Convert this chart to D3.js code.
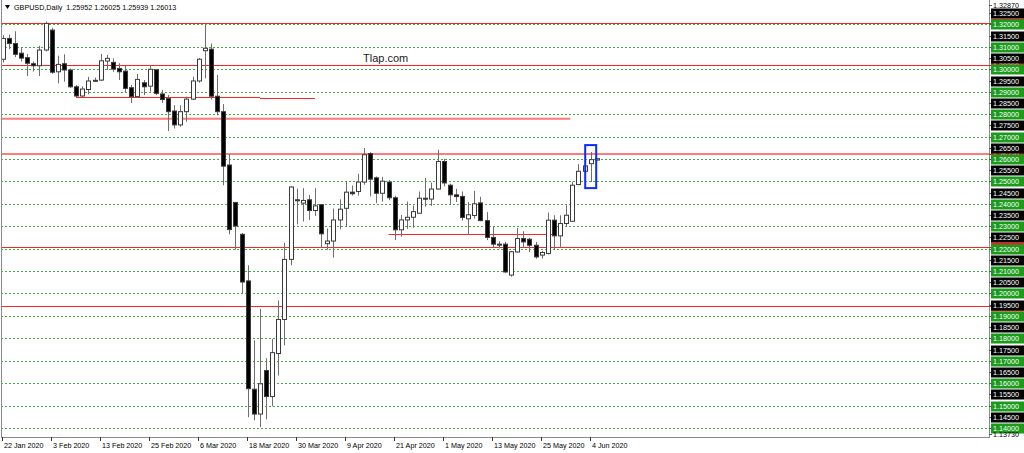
<!DOCTYPE html>
<html>

<head>
    <meta charset="utf-8">
    <title>GBPUSD Daily</title>
    <script src="https://cdn.jsdelivr.net/npm/d3@7"></script>
    <style>
        body {
            margin: 0;
            background: #fff;
        }

        text {
            font-family: "Liberation Sans", Arial, sans-serif;
        }

        .grid {
            stroke: #3cae3c;
            stroke-dasharray: 2, 2;
            stroke-width: 1px;
        }

        .wick {
            stroke: #6e6e6e;
            stroke-width: 1px;
        }

        .body {
            stroke: #3a3a3a;
            stroke-width: 1px;
        }

        .frame {
            stroke: #8a8a8a;
            stroke-width: 1px;
        }
    </style>
</head>

<body>
    <script>
        // daily bars
        let dates = [
            "2020-01-22", "2020-01-23", "2020-01-24", "2020-01-27", "2020-01-28", "2020-01-29", "2020-01-30", "2020-01-31",
            "2020-02-03", "2020-02-04", "2020-02-05", "2020-02-06", "2020-02-07", "2020-02-10", "2020-02-11", "2020-02-12",
            "2020-02-13", "2020-02-14", "2020-02-17", "2020-02-18", "2020-02-19", "2020-02-20", "2020-02-21", "2020-02-24",
            "2020-02-25", "2020-02-26", "2020-02-27", "2020-02-28", "2020-03-02", "2020-03-03", "2020-03-04", "2020-03-05",
            "2020-03-06", "2020-03-09", "2020-03-10", "2020-03-11", "2020-03-12", "2020-03-13", "2020-03-16", "2020-03-17",
            "2020-03-18", "2020-03-19", "2020-03-20", "2020-03-23", "2020-03-24", "2020-03-25", "2020-03-26", "2020-03-27",
            "2020-03-30", "2020-03-31", "2020-04-01", "2020-04-02", "2020-04-03", "2020-04-06", "2020-04-07", "2020-04-08",
            "2020-04-09", "2020-04-10", "2020-04-13", "2020-04-14", "2020-04-15", "2020-04-16", "2020-04-17", "2020-04-20",
            "2020-04-21", "2020-04-22", "2020-04-23", "2020-04-24", "2020-04-27", "2020-04-28", "2020-04-29", "2020-04-30",
            "2020-05-01", "2020-05-04", "2020-05-05", "2020-05-06", "2020-05-07", "2020-05-08", "2020-05-11", "2020-05-12",
            "2020-05-13", "2020-05-14", "2020-05-15", "2020-05-18", "2020-05-19", "2020-05-20", "2020-05-21", "2020-05-22",
            "2020-05-25", "2020-05-26", "2020-05-27", "2020-05-28", "2020-05-29", "2020-06-01", "2020-06-02", "2020-06-03",
            "2020-06-04", "2020-06-05"
        ];

        let open = [
            1.3045, 1.3138, 1.3115, 1.3072, 1.3052, 1.3025, 1.3016, 1.3086,
            1.3175, 1.2989, 1.3025, 1.2997, 1.2922, 1.2881, 1.2910, 1.2948,
            1.2952, 1.3037, 1.3031, 1.3004, 1.2992, 1.2918, 1.2878, 1.2940,
            1.2925, 1.2998, 1.2890, 1.2870, 1.2814, 1.2752, 1.2811, 1.2867,
            1.2948, 1.3083, 1.3090, 1.2880, 1.2811, 1.2573, 1.2406, 1.2264,
            1.2056, 1.1573, 1.1462, 1.1656, 1.1540, 1.1732, 1.1884, 1.2152,
            1.2418, 1.2403, 1.2418, 1.2370, 1.2396, 1.2222, 1.2234, 1.2328,
            1.2380, 1.2452, 1.2455, 1.2497, 1.2624, 1.2516, 1.2447, 1.2497,
            1.2427, 1.2284, 1.2328, 1.2340, 1.2358, 1.2425, 1.2421, 1.2466,
            1.2589, 1.2483, 1.2440, 1.2433, 1.2333, 1.2348, 1.2404, 1.2325,
            1.2250, 1.2220, 1.2220, 1.2082, 1.2185, 1.2245, 1.2242, 1.2215,
            1.2171, 1.2178, 1.2327, 1.2257, 1.2312, 1.2322, 1.2486, 1.2545,
            1.2579, 1.25952
        ];

        let high = [
            1.3152, 1.3155, 1.3170, 1.3100, 1.3068, 1.3035, 1.3105, 1.3213,
            1.3185, 1.3061, 1.3067, 1.3004, 1.2930, 1.2924, 1.2967, 1.2963,
            1.3068, 1.3064, 1.3049, 1.3027, 1.3016, 1.2930, 1.2980, 1.2952,
            1.3016, 1.3000, 1.2907, 1.2885, 1.2840, 1.2840, 1.2878, 1.2967,
            1.3050, 1.3200, 1.3115, 1.2975, 1.2845, 1.2622, 1.2409, 1.2270,
            1.2126, 1.1791, 1.1931, 1.1711, 1.1797, 1.1969, 1.2226, 1.2479,
            1.2468, 1.2470, 1.2440, 1.2470, 1.2396, 1.2290, 1.2379, 1.2420,
            1.2500, 1.2482, 1.2534, 1.2649, 1.2630, 1.2522, 1.2520, 1.2506,
            1.2436, 1.2350, 1.2410, 1.2392, 1.2455, 1.2515, 1.2495, 1.2641,
            1.2600, 1.2490, 1.2467, 1.2455, 1.2408, 1.2458, 1.2431, 1.2363,
            1.2301, 1.2233, 1.2230, 1.2190, 1.2292, 1.2278, 1.2248, 1.2230,
            1.2190, 1.2361, 1.2349, 1.2349, 1.2394, 1.2498, 1.2577, 1.2614,
            1.2631, 1.26025
        ];

        let low = [
            1.3030, 1.3090, 1.3055, 1.3035, 1.2970, 1.2990, 1.2970, 1.3080,
            1.2980, 1.2937, 1.2945, 1.2918, 1.2873, 1.2873, 1.2888, 1.2945,
            1.2948, 1.2997, 1.2989, 1.2952, 1.2897, 1.2850, 1.2873, 1.2885,
            1.2900, 1.2885, 1.2850, 1.2725, 1.2736, 1.2744, 1.2766, 1.2863,
            1.2940, 1.2960, 1.2865, 1.2795, 1.2483, 1.2264, 1.2196, 1.1999,
            1.1448, 1.1434, 1.1404, 1.1438, 1.1497, 1.1634, 1.1769, 1.2126,
            1.2308, 1.2321, 1.2328, 1.2346, 1.2203, 1.2195, 1.2160, 1.2286,
            1.2296, 1.2437, 1.2437, 1.2485, 1.2433, 1.2403, 1.2410, 1.2416,
            1.2238, 1.2253, 1.2288, 1.2293, 1.2356, 1.2388, 1.2391, 1.2463,
            1.2478, 1.2398, 1.2408, 1.2325, 1.2262, 1.2334, 1.2322, 1.2238,
            1.2203, 1.2200, 1.2090, 1.2075, 1.2183, 1.2208, 1.2185, 1.2155,
            1.2156, 1.2174, 1.2193, 1.2208, 1.2297, 1.2319, 1.2483, 1.2540,
            1.2497, 1.25939
        ];

        let close = [
            1.3138, 1.3115, 1.3067, 1.3050, 1.3027, 1.3016, 1.3086, 1.3205,
            1.2987, 1.3022, 1.2997, 1.2922, 1.2881, 1.2912, 1.2948, 1.2951,
            1.3038, 1.3049, 1.3001, 1.2989, 1.2915, 1.2878, 1.2955, 1.2922,
            1.3000, 1.2893, 1.2865, 1.2811, 1.2752, 1.2811, 1.2867, 1.2948,
            1.3045, 1.3094, 1.2880, 1.2811, 1.2568, 1.2285, 1.2301, 1.2051,
            1.1575, 1.1462, 1.1597, 1.1540, 1.1736, 1.1884, 1.2152, 1.2475,
            1.2414, 1.2415, 1.2370, 1.2391, 1.2266, 1.2234, 1.2328, 1.2376,
            1.2452, 1.2445, 1.2497, 1.2619, 1.2510, 1.2447, 1.2501, 1.2427,
            1.2284, 1.2328, 1.2340, 1.2365, 1.2425, 1.2421, 1.2466, 1.2589,
            1.2493, 1.2440, 1.2432, 1.2339, 1.2351, 1.2400, 1.2325, 1.2250,
            1.2220, 1.2218, 1.2096, 1.2186, 1.2245, 1.2230, 1.2215, 1.2163,
            1.2183, 1.2327, 1.2257, 1.2312, 1.2349, 1.2483, 1.2545, 1.2569,
            1.2597, 1.26013
        ];

        let tickDates = ["2020-01-22", "2020-02-03", "2020-02-13", "2020-02-25", "2020-03-06", "2020-03-18", "2020-03-30",
            "2020-04-09", "2020-04-21", "2020-05-01", "2020-05-13", "2020-05-25", "2020-06-04"];

        // price axis
        let priceMin = 1.13730;
        let priceMax = 1.32870;
        let gridLevels = d3.range(114, 133).map(d => d / 100);         // green dashed, every 0.01
        let halfLevels = d3.range(114, 133).map(d => d / 100 + 0.005)  // black labels at the odd 0.005 steps
            .filter(d => d < priceMax);

        // hand drawn levels
        let redLevels = [1.3208, 1.3020, 1.2206, 1.1944];
        let wideLevels = [1.2622];
        let redSegments = [
            { price: 1.2877, from: "2020-02-07", to: "2020-03-20" },
            { price: 1.2871, from: "2020-03-20", to: "2020-04-02" },
            { price: 1.2267, from: "2020-04-20", to: "2020-05-27" }
        ];
        let wideSegments = [{ price: 1.2779, from: null, to: "2020-05-29" }];
        let boxLevels = { date: "2020-06-04", top: 1.2662, bottom: 1.2470 };

        let title = "GBPUSD,Daily  1.25952 1.26025 1.25939 1.26013";
        let watermark = "Tlap.com";

        let width = 1024;
        let height = 453;
        let plotLeft = 1;
        let plotRight = 989;
        let plotTop = 5;
        let plotBottom = 434;
        let frameBottom = 437;

        let parse = d3.timeParse("%Y-%m-%d");
        let fmt = d3.timeFormat("%-d %b %Y");

        let bars = dates.map((d, i) => ({
            date: d, o: open[i], h: high[i], l: low[i], c: close[i]
        }));

        let svg = d3.select('body').append('svg')
            .attr('width', width)
            .attr('height', height);

        let x = d3.scaleBand()
            .domain(dates)
            .range([-0.36, -0.36 + 6.125 * dates.length])
            .padding(0);
        let cx = d => x(d) + x.bandwidth() / 2;

        let y = d3.scaleLinear()
            .domain([priceMin, priceMax])
            .range([plotBottom, plotTop]);

        svg.append("clipPath").attr("id", "plot")
            .append("rect")
            .attr("x", plotLeft).attr("y", 0)
            .attr("width", plotRight - plotLeft).attr("height", frameBottom);

        let plot = svg.append("g").attr("clip-path", "url(#plot)");

        // grid
        plot.selectAll("line.grid")
            .data(gridLevels)
            .join("line")
            .attr("class", "grid")
            .attr("x1", plotLeft).attr("x2", plotRight)
            .attr("y1", d => Math.round(y(d)) + 0.5)
            .attr("y2", d => Math.round(y(d)) + 0.5);

        // red levels
        plot.selectAll("line.wide")
            .data(wideLevels)
            .join("line")
            .attr("class", "wide")
            .attr("x1", plotLeft).attr("x2", plotRight)
            .attr("y1", d => y(d)).attr("y2", d => y(d))
            .attr("stroke", "#ff7a7a").attr("stroke-width", 2);

        plot.selectAll("line.wideseg")
            .data(wideSegments)
            .join("line")
            .attr("class", "wideseg")
            .attr("x1", d => d.from ? cx(d.from) : plotLeft)
            .attr("x2", d => cx(d.to) + 4)
            .attr("y1", d => y(d.price)).attr("y2", d => y(d.price))
            .attr("stroke", "#ff7a7a").attr("stroke-width", 2);

        plot.selectAll("line.red")
            .data(redLevels)
            .join("line")
            .attr("class", "red")
            .attr("x1", plotLeft).attr("x2", plotRight)
            .attr("y1", d => Math.round(y(d)) + 0.5)
            .attr("y2", d => Math.round(y(d)) + 0.5)
            .attr("stroke", "#f22").attr("stroke-width", 1);

        plot.selectAll("line.seg")
            .data(redSegments)
            .join("line")
            .attr("class", "seg")
            .attr("x1", d => cx(d.from)).attr("x2", d => cx(d.to))
            .attr("y1", d => Math.round(y(d.price)) + 0.5)
            .attr("y2", d => Math.round(y(d.price)) + 0.5)
            .attr("stroke", "#f22").attr("stroke-width", 1);

        // watermark
        svg.append("text")
            .attr("x", 363).attr("y", 62)
            .attr("font-size", "11px")
            .attr("fill", "#222")
            .text(watermark);

        // candles
        let candles = plot.selectAll("g.candle")
            .data(bars)
            .join("g")
            .attr("class", "candle");

        candles.append("line")
            .attr("class", "wick")
            .attr("x1", d => Math.round(cx(d.date)) + 0.5)
            .attr("x2", d => Math.round(cx(d.date)) + 0.5)
            .attr("y1", d => y(d.h))
            .attr("y2", d => y(d.l));

        candles.append("rect")
            .attr("class", "body")
            .attr("x", d => Math.round(cx(d.date)) - 1.5)
            .attr("width", 4)
            .attr("y", d => y(Math.max(d.o, d.c)))
            .attr("height", d => Math.max(1, Math.abs(y(d.o) - y(d.c))))
            .attr("fill", d => d.c >= d.o ? "#fff" : "#000")
            .attr("stroke", d => d.c >= d.o ? "#3a3a3a" : "#000");

        // highlight box
        svg.append("rect")
            .attr("x", cx(boxLevels.date) - 5.5)
            .attr("y", y(boxLevels.top))
            .attr("width", 11)
            .attr("height", y(boxLevels.bottom) - y(boxLevels.top))
            .attr("fill", "none")
            .attr("stroke", "#0a2cff")
            .attr("stroke-width", 2);

        // frame
        svg.append("line").attr("class", "frame")
            .attr("x1", plotLeft + 0.5).attr("x2", plotLeft + 0.5)
            .attr("y1", 0).attr("y2", frameBottom);
        svg.append("line").attr("class", "frame")
            .attr("x1", plotRight + 0.5).attr("x2", plotRight + 0.5)
            .attr("y1", 0).attr("y2", frameBottom + 0.5);
        svg.append("line").attr("class", "frame")
            .attr("x1", plotLeft).attr("x2", plotRight + 1)
            .attr("y1", frameBottom + 0.5).attr("y2", frameBottom + 0.5);

        // title
        svg.append("path")
            .attr("d", "M5,5 L10,5 L7.5,9 Z")
            .attr("fill", "#000");
        svg.append("text")
            .attr("x", 14).attr("y", 10)
            .attr("font-size", "7.2px")
            .attr("fill", "#000")
            .attr("xml:space", "preserve")
            .style("white-space", "pre")
            .text(title);

        // price labels
        let axisX = plotRight + 2;
        let labelW = 33;
        let labelH = 10;

        function priceLabel(p, fill, color) {
            let g = svg.append("g").attr("transform", "translate(0," + Math.round(y(p)) + ")");
            g.append("line")
                .attr("x1", plotRight).attr("x2", plotRight + 3)
                .attr("y1", 0.5).attr("y2", 0.5)
                .attr("stroke", "#555");
            if (fill) {
                g.append("rect")
                    .attr("x", axisX).attr("y", -labelH / 2 + 0.5)
                    .attr("width", labelW).attr("height", labelH)
                    .attr("fill", fill);
            }
            g.append("text")
                .attr("x", axisX + 2).attr("y", 3.2)
                .attr("font-size", "7.2px")
                .attr("fill", color)
                .text(p.toFixed(5));
        }

        redLevels.concat(wideLevels).forEach(p => priceLabel(p, "#f21f1f", "#fff"));
        halfLevels.forEach(p => priceLabel(p, "#000", "#fff"));
        gridLevels.filter(p => p < priceMax).forEach(p => priceLabel(p, "#1b9a1b", "#fff"));
        priceLabel(priceMax, null, "#000");
        priceLabel(priceMin, null, "#000");

        // time axis
        let tg = svg.append("g");
        tg.selectAll("line")
            .data(tickDates)
            .join("line")
            .attr("x1", d => Math.round(cx(d)) - 0.5)
            .attr("x2", d => Math.round(cx(d)) - 0.5)
            .attr("y1", frameBottom).attr("y2", frameBottom + 4)
            .attr("stroke", "#333");
        tg.selectAll("text")
            .data(tickDates)
            .join("text")
            .attr("x", d => Math.round(cx(d)) + 1)
            .attr("y", frameBottom + 11)
            .attr("font-size", "7.2px")
            .attr("fill", "#000")
            .text(d => fmt(parse(d)));
    </script>
</body>

</html>
